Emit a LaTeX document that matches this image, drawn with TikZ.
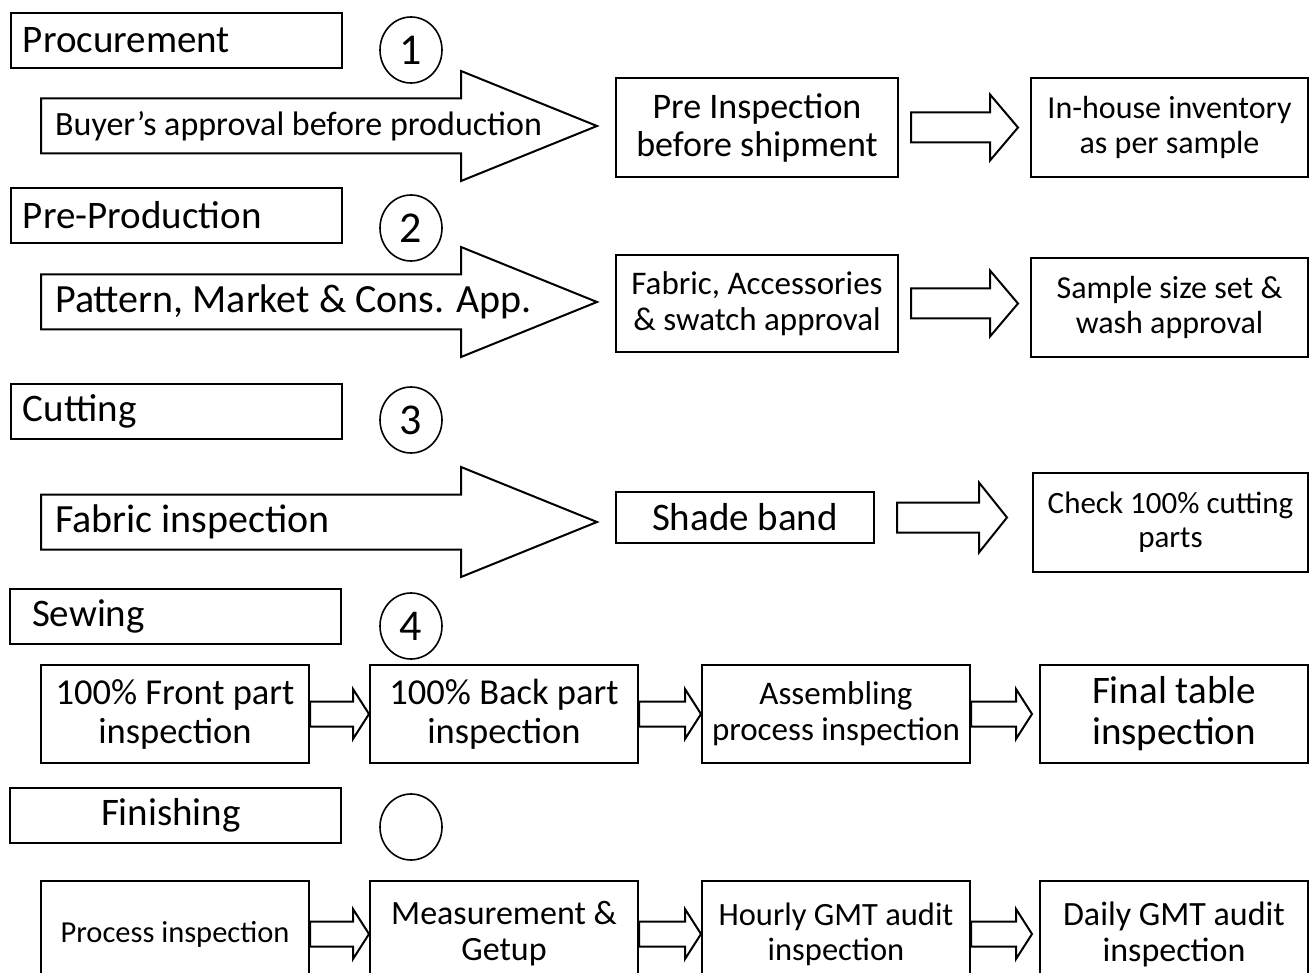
\documentclass[tikz,border=0pt]{standalone}
\usepackage{fontspec}
\setmainfont{Carlito}
\usetikzlibrary{calc,shapes.geometric}

\newcommand\fsz[2]{\fontsize{#1}{#2}\selectfont}
% hollow block arrow from one box to the next
% #3,#4 gaps at both ends, #5 half shaft, #6 half head, #7 head length
\newcommand\fatarrow[7]{%
  \draw[line width=2] let \p1=(#1.east), \p2=(#2.west) in
    (\x1+#3pt,\y1+#5pt) -- (\x2-#4pt-#7pt,\y1+#5pt) -- (\x2-#4pt-#7pt,\y1+#6pt)
    -- (\x2-#4pt,\y1) -- (\x2-#4pt-#7pt,\y1-#6pt) -- (\x2-#4pt-#7pt,\y1-#5pt)
    -- (\x1+#3pt,\y1-#5pt) -- cycle;}

\tikzset{
  stage/.style={draw,line width=2,anchor=north west,minimum height=55,
    text width=307,inner xsep=12,align=left,font=\fsz{39}{42}},
  num/.style={draw,ellipse,line width=1.6,minimum width=62,minimum height=66,
    inner sep=0,font=\fsz{44}{46}},
  box/.style={draw,line width=2,align=center,inner sep=0,
    minimum width=268,minimum height=98},
}

\begin{document}
\begin{tikzpicture}[x=1pt,y=-1pt]
\useasboundingbox (0,0) rectangle (1309,973);

% stages
\node[stage] (procure) at (10,12) {Procurement};
\node[stage] (preprod) at (10,187) {Pre-Production};
\node[stage] (cutting) at (10,383) {Cutting};
\node[stage] (sewing) at (9,588) {\hspace*{10pt}Sewing};
\node[stage] (finish) at (9,787) {\hspace*{79pt}Finishing};

\node[num] (n1) at (411,50) {1};
\node[num] (n2) at (411,228) {2};
\node[num] (n3) at (411,420) {3};
\node[num] (n4) at (411,626) {4};
\node[num] (n5) at (411,827) {};

% big arrows
\foreach \i/\yc/\s/\txt in {1/126/34/{Buyer's approval before production},
    2/302/40/{Pattern, Market \& Cons. App.},
    3/522/40/{Fabric inspection}}{
  \draw[line width=2] (41,\yc-27.5) -- (461,\yc-27.5) -- (461,\yc-55) -- (597,\yc)
    -- (461,\yc+55) -- (461,\yc+27.5) -- (41,\yc+27.5) -- cycle;
  \node[anchor=west,inner sep=0,font=\fsz{\s}{\s}] (big\i) at (55,\yc) {\txt};
}

% procurement
\node[box,minimum width=282,minimum height=99,font=\fsz{36}{38}] (preinsp)
  at (757,127.5) {Pre Inspection\\before shipment};
\node[box,minimum width=277,minimum height=99,font=\fsz{32}{35}] (inhouse)
  at (1169.5,127.5) {In-house inventory\\as per sample};
\fatarrow{preinsp}{inhouse}{12}{12}{15}{33}{28}

% pre-production
\node[box,minimum width=282,minimum height=97,font=\fsz{33}{36}] (fabacc)
  at (757,303.5) {Fabric, Accessories\\\& swatch approval};
\node[box,minimum width=277,minimum height=99,font=\fsz{32}{35}] (sizeset)
  at (1169.5,307.5) {Sample size set \&\\wash approval};
\fatarrow{fabacc}{sizeset}{12}{12}{15}{33}{28}

% cutting
\node[box,minimum width=258,minimum height=51,font=\fsz{39}{42}] (shade)
  at (745,517.5) {Shade band};
\node[box,minimum width=275,minimum height=99,font=\fsz{31}{34}] (cutparts)
  at (1170.5,522.5) {Check 100\% cutting\\parts};
\fatarrow{shade}{cutparts}{22}{25}{15}{35}{28}

% sewing
\node[box,font=\fsz{36.5}{39}] (front) at (175,714) {100\% Front part\\inspection};
\node[box,font=\fsz{36.5}{39}] (back) at (504,714) {100\% Back part\\inspection};
\node[box,font=\fsz{33}{36}] (assem) at (836,714) {Assembling\\process inspection};
\node[box,font=\fsz{39}{41}] (final) at (1174,714) {Final table\\inspection};
\fatarrow{front}{back}{0}{0}{12.5}{25}{16}
\fatarrow{back}{assem}{0}{0}{12.5}{25}{16}
\fatarrow{assem}{final}{0}{7}{12.5}{25}{16}

% finishing
\node[box,minimum height=106,font=\fsz{30.5}{33}] (procinsp) at (175,934) {Process inspection};
\node[box,minimum height=106,font=\fsz{34}{36}] (measure) at (504,934) {Measurement \&\\Getup};
\node[box,minimum height=106,font=\fsz{32.5}{35}] (hourly) at (836,934) {Hourly GMT audit\\inspection};
\node[box,minimum height=106,font=\fsz{34}{36}] (daily) at (1174,934) {Daily GMT audit\\inspection};
\fatarrow{procinsp}{measure}{0}{0}{12.5}{25}{16}
\fatarrow{measure}{hourly}{0}{0}{12.5}{25}{16}
\fatarrow{hourly}{daily}{0}{7}{12.5}{25}{16}
\end{tikzpicture}
\end{document}
